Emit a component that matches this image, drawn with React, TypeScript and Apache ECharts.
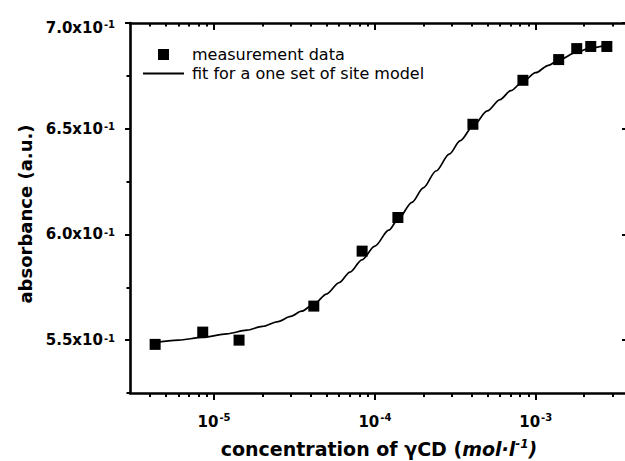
import React, { useEffect, useRef } from 'react';
import * as echarts from 'echarts';

// measured data (concentration of γCD in mol/l, absorbance in a.u.)
const concentration = [4.3e-6, 8.5e-6, 1.43e-5, 4.17e-5, 8.33e-5, 1.39e-4, 4.07e-4, 8.33e-4, 1.39e-3, 1.8e-3, 2.2e-3, 2.77e-3];
const absorbance = [0.548, 0.5538, 0.55, 0.5661, 0.5921, 0.608, 0.6521, 0.6729, 0.6827, 0.6879, 0.6889, 0.6889];

// fitted curve
const fitConcentration = [4.2e-6, 6e-6, 8.5e-6, 1.2e-5, 1.6e-5, 2e-5, 2.5e-5, 3e-5, 3.5e-5, 4.2e-5, 5e-5, 6e-5, 7e-5, 8.3e-5, 1e-4, 1.22e-4, 1.4e-4, 1.7e-4, 2e-4, 2.4e-4, 2.9e-4, 3.4e-4, 4.1e-4, 5e-4, 6e-4, 7e-4, 8.3e-4, 1e-3, 1.2e-3, 1.4e-3, 1.8e-3, 2.2e-3, 2.8e-3];
const fitAbsorbance = [0.5488, 0.55, 0.5513, 0.553, 0.5547, 0.5565, 0.5588, 0.5612, 0.5637, 0.5672, 0.5718, 0.5772, 0.5822, 0.588, 0.5945, 0.602, 0.6074, 0.6152, 0.622, 0.63, 0.638, 0.6444, 0.6515, 0.6584, 0.6638, 0.668, 0.6722, 0.6765, 0.68, 0.6826, 0.6862, 0.6882, 0.6898];

// ticks
const xMajorTicks = [1e-5, 1e-4, 1e-3];
const xMinorTicks = [4e-6, 5e-6, 6e-6, 7e-6, 8e-6, 9e-6, 2e-5, 3e-5, 4e-5, 5e-5, 6e-5, 7e-5, 8e-5, 9e-5, 2e-4, 3e-4, 4e-4, 5e-4, 6e-4, 7e-4, 8e-4, 9e-4, 2e-3, 3e-3];
const yMajorTicks = [0.55, 0.6, 0.65, 0.7];
const yMinorTicks = [0.525, 0.575, 0.625, 0.675];

const seriesNames = ['measurement data', 'fit for a one set of site model'];
const xTitle = '{b|concentration of γCD (}{i|mol·l}{s|-1}{i|)}';
const yTitle = 'absorbance (a.u.)';

const FONT = 'DejaVu Sans';
const X_MIN = 3e-6;
const X_MAX = 3.75e-3;
const Y_MIN = 0.525;
const Y_MAX = 0.7;

export default function App() {
  const ref = useRef<HTMLDivElement>(null);

  useEffect(() => {
    const chart = echarts.init(ref.current as HTMLDivElement, null, { renderer: 'svg', width: 625, height: 461 });

    const axisLineStyle = { color: '#000', width: 2.6 };
    const tickStyle = { color: '#000', width: 2 };
    const bold = { fontFamily: FONT, fontWeight: 'bold', color: '#000' };

    const xCommon = {
      type: 'log',
      logBase: 10,
      min: X_MIN,
      max: X_MAX,
      gridIndex: 0,
      splitLine: { show: false },
      minorTick: { show: false },
      minorSplitLine: { show: false },
    };
    const yCommon = {
      type: 'value',
      min: Y_MIN,
      max: Y_MAX,
      gridIndex: 0,
      splitLine: { show: false },
      minorTick: { show: false },
      minorSplitLine: { show: false },
    };

    const legendText = { fontFamily: FONT, fontSize: 16, color: '#000', lineHeight: 16 };

    const option: any = {
      animation: false,
      backgroundColor: '#fff',
      textStyle: { fontFamily: FONT, color: '#000' },
      grid: { left: 130, top: 23, right: -3, bottom: 68, containLabel: false, outerBoundsMode: 'none' },
      legend: [
        {
          orient: 'vertical',
          left: 158,
          top: 46.5,
          padding: 0,
          itemWidth: 11,
          itemHeight: 11,
          itemGap: 0,
          data: [{ name: seriesNames[0], icon: 'rect' }],
          textStyle: { ...legendText, padding: [0, 0, 0, 18] },
        },
        {
          orient: 'vertical',
          left: 143,
          top: 65.5,
          padding: 0,
          itemWidth: 41,
          itemHeight: 1.8,
          itemGap: 0,
          data: [{ name: seriesNames[1], icon: 'rect' }],
          textStyle: { ...legendText, padding: [0, 0, 0, 3] },
        },
      ],
      xAxis: [
        {
          ...xCommon,
          position: 'bottom',
          axisLine: { show: true, onZero: false, lineStyle: axisLineStyle },
          axisTick: { show: true, inside: false, length: 7, lineStyle: tickStyle, customValues: xMajorTicks },
          axisLabel: {
            show: true,
            margin: 19,
            customValues: xMajorTicks,
            formatter: (v: number) => `{n|10}{s|${Math.round(Math.log10(v))}}`,
            rich: {
              n: { ...bold, fontSize: 15, lineHeight: 20 },
              s: { ...bold, fontSize: 10, lineHeight: 10, verticalAlign: 'top', padding: [0, 0, 0, 1] },
            },
          },
          name: xTitle,
          nameLocation: 'middle',
          nameGap: 45,
          nameTextStyle: {
            rich: {
              b: { ...bold, fontSize: 19, lineHeight: 20, verticalAlign: 'bottom' },
              i: { ...bold, fontSize: 19, fontStyle: 'italic', lineHeight: 20, verticalAlign: 'bottom' },
              s: { ...bold, fontSize: 12, fontStyle: 'italic', lineHeight: 10, verticalAlign: 'top', padding: [0, 0, 13, 0] },
            },
          },
        },
        {
          ...xCommon,
          position: 'bottom',
          axisLine: { show: false, onZero: false },
          axisTick: { show: true, inside: false, length: 4, lineStyle: tickStyle, customValues: xMinorTicks },
          axisLabel: { show: false },
        },
        {
          ...xCommon,
          position: 'top',
          axisLine: { show: true, onZero: false, lineStyle: axisLineStyle },
          axisTick: { show: true, inside: true, length: 7, lineStyle: tickStyle, customValues: xMajorTicks },
          axisLabel: { show: false },
        },
        {
          ...xCommon,
          position: 'top',
          axisLine: { show: false, onZero: false },
          axisTick: { show: true, inside: true, length: 3.5, lineStyle: tickStyle, customValues: xMinorTicks },
          axisLabel: { show: false },
        },
      ],
      yAxis: [
        {
          ...yCommon,
          position: 'left',
          axisLine: { show: true, onZero: false, lineStyle: axisLineStyle },
          axisTick: { show: true, inside: false, length: 5, lineStyle: tickStyle, customValues: yMajorTicks },
          axisLabel: {
            show: true,
            margin: 15,
            customValues: yMajorTicks,
            formatter: (v: number) => {
              const m = (v * 10).toFixed(1);
              return Math.abs(v - Y_MAX) < 1e-9 ? `{nt|${m}x10}{st|-1}` : `{n|${m}x10}{s|-1}`;
            },
            rich: {
              n: { ...bold, fontSize: 15, lineHeight: 20 },
              s: { ...bold, fontSize: 10, lineHeight: 10, verticalAlign: 'top', padding: [3, 0, 0, 1] },
              nt: { ...bold, fontSize: 15, lineHeight: 20, padding: [10, 0, 0, 0] },
              st: { ...bold, fontSize: 10, lineHeight: 10, verticalAlign: 'top', padding: [6, 0, 0, 1] },
            },
          },
          name: yTitle,
          nameLocation: 'middle',
          nameGap: 92,
          nameTextStyle: { ...bold, fontSize: 18, padding: [0, 12, 0, 0] },
        },
        {
          ...yCommon,
          position: 'left',
          axisLine: { show: false, onZero: false },
          axisTick: { show: true, inside: false, length: 3.5, lineStyle: tickStyle, customValues: yMinorTicks },
          axisLabel: { show: false },
        },
        {
          ...yCommon,
          position: 'right',
          axisLine: { show: true, onZero: false, lineStyle: axisLineStyle },
          axisTick: { show: true, inside: true, length: 6, lineStyle: tickStyle, customValues: yMajorTicks },
          axisLabel: { show: false },
        },
      ],
      series: [
        {
          name: seriesNames[0],
          type: 'scatter',
          xAxisIndex: 0,
          yAxisIndex: 0,
          symbol: 'rect',
          symbolSize: 11,
          itemStyle: { color: '#000', opacity: 1 },
          z: 3,
          data: concentration.map((c, i) => [c, absorbance[i]]),
        },
        {
          name: seriesNames[1],
          type: 'line',
          xAxisIndex: 0,
          yAxisIndex: 0,
          symbol: 'none',
          smooth: 0.3,
          smoothMonotone: 'x',
          lineStyle: { color: '#000', width: 1.7 },
          itemStyle: { color: '#000' },
          z: 2,
          data: fitConcentration.map((c, i) => [c, fitAbsorbance[i]]),
        },
      ],
    };

    chart.setOption(option);
    return () => chart.dispose();
  }, []);

  return <div ref={ref} style={{ position: 'fixed', left: 0, top: 0, width: 625, height: 461, background: '#fff' }} />;
}
